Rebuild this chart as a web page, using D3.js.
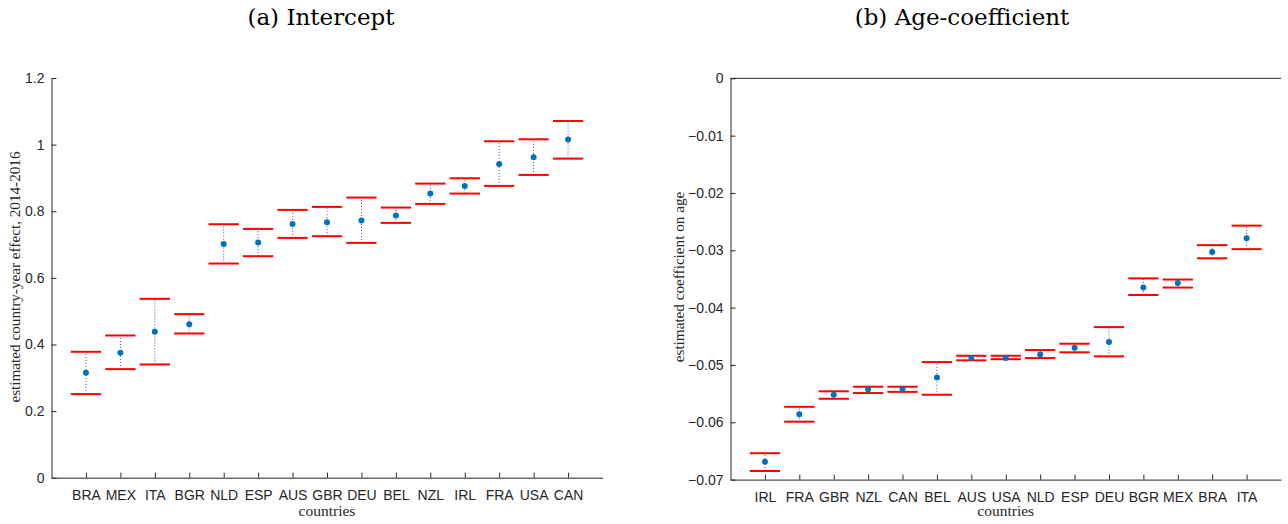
<!DOCTYPE html>
<html lang="en">
  <head>
    <meta charset="utf-8">
    <title>Country effects</title>
    <script src="https://d3js.org/d3.v7.min.js"></script>
    <style>
      body { margin: 0; background: #fff; }
      .tick text { font-family: "Liberation Sans", Arial, sans-serif; font-size: 14px; fill: #262626; }
      .domain, .tick line { stroke: #262626; }
    </style>
  </head>
  <body>
    <div id="chart"></div>
    <script type="text/javascript">
      // panel (a): intercept
      var countriesA = ["BRA","MEX","ITA","BGR","NLD","ESP","AUS","GBR","DEU","BEL","NZL","IRL","FRA","USA","CAN"];
      var estA  = [0.315, 0.375, 0.438, 0.461, 0.702, 0.706, 0.762, 0.767, 0.772, 0.787, 0.853, 0.876, 0.942, 0.962, 1.015];
      var lowA  = [0.251, 0.326, 0.340, 0.433, 0.643, 0.665, 0.720, 0.725, 0.705, 0.765, 0.822, 0.853, 0.876, 0.909, 0.958];
      var highA = [0.378, 0.427, 0.537, 0.491, 0.761, 0.747, 0.804, 0.813, 0.841, 0.811, 0.883, 0.899, 1.010, 1.016, 1.071];
      var ticksA = [0, 0.2, 0.4, 0.6, 0.8, 1, 1.2];

      // panel (b): age coefficient
      var countriesB = ["IRL","FRA","GBR","NZL","CAN","BEL","AUS","USA","NLD","ESP","DEU","BGR","MEX","BRA","ITA"];
      var estB  = [-0.0669, -0.0586, -0.0552, -0.0543, -0.0542, -0.0522, -0.0488, -0.0488, -0.0482, -0.0470, -0.0460, -0.0365, -0.0357, -0.0303, -0.0279];
      var lowB  = [-0.0685, -0.0599, -0.0559, -0.0549, -0.0547, -0.0552, -0.0492, -0.0490, -0.0488, -0.0478, -0.0485, -0.0378, -0.0365, -0.0314, -0.0298];
      var highB = [-0.0654, -0.0573, -0.0546, -0.0538, -0.0538, -0.0495, -0.0484, -0.0484, -0.0474, -0.0463, -0.0434, -0.0349, -0.0351, -0.0291, -0.0257];
      var ticksB = [-0.07, -0.06, -0.05, -0.04, -0.03, -0.02, -0.01, 0];

      var svg = d3.select('#chart')
        .append('svg')
        .attr('width', 1288)
        .attr('height', 524);

      var drawPanel = function(opt) {
        var x = d3.scaleLinear().domain([0, 16]).range([opt.left, opt.right]);
        var y = d3.scaleLinear().domain(opt.yDomain).range([opt.bottom, opt.top]);

        var rows = opt.countries.map(function(c, i) {
          return { name: c, i: i + 1, est: opt.est[i], lo: opt.low[i], hi: opt.high[i] };
        });

        // axes (ticks pointing inward, matlab style)
        svg.append('g')
          .attr('transform', 'translate(0,' + opt.bottom + ')')
          .call(d3.axisBottom(x)
            .tickValues(d3.range(1, 16))
            .tickFormat(function(d) { return opt.countries[d - 1]; })
            .tickSizeInner(-5).tickSizeOuter(0).tickPadding(12));

        svg.append('g')
          .attr('transform', 'translate(' + opt.left + ',0)')
          .call(d3.axisLeft(y)
            .tickValues(opt.ticks)
            .tickFormat(opt.fmt)
            .tickSizeInner(-5).tickSizeOuter(0).tickPadding(7));

        if (opt.topLine) {
          svg.append('line')
            .attr('x1', opt.left).attr('x2', opt.right)
            .attr('y1', opt.top).attr('y2', opt.top)
            .attr('stroke', '#262626');
        }

        // dotted connector between the bounds
        svg.append('g').selectAll('line')
          .data(rows).enter()
          .append('line')
            .attr('x1', function(d) { return x(d.i); })
            .attr('x2', function(d) { return x(d.i); })
            .attr('y1', function(d) { return y(d.lo); })
            .attr('y2', function(d) { return y(d.hi); })
            .attr('stroke', '#3a3aff')
            .attr('stroke-width', 1)
            .attr('stroke-dasharray', '1,2');

        // red caps
        ['lo', 'hi'].forEach(function(k) {
          svg.append('g').selectAll('line')
            .data(rows).enter()
            .append('line')
              .attr('x1', function(d) { return x(d.i - 0.44); })
              .attr('x2', function(d) { return x(d.i + 0.44); })
              .attr('y1', function(d) { return y(d[k]); })
              .attr('y2', function(d) { return y(d[k]); })
              .attr('stroke', '#ff0000')
              .attr('stroke-width', 2);
        });

        // estimate points
        svg.append('g').selectAll('circle')
          .data(rows).enter()
          .append('circle')
            .attr('cx', function(d) { return x(d.i); })
            .attr('cy', function(d) { return y(d.est); })
            .attr('r', 3)
            .attr('fill', '#0072bd');

        // labels
        svg.append('text')
          .attr('x', opt.titleX)
          .attr('y', 25)
          .attr('text-anchor', 'middle')
          .style('font-family', '"DejaVu Serif", serif')
          .style('font-size', '23px')
          .attr('fill', '#000')
          .text(opt.title);

        svg.append('text')
          .attr('x', (opt.left + opt.right) / 2)
          .attr('y', 516)
          .attr('text-anchor', 'middle')
          .style('font-family', '"Liberation Serif", serif')
          .style('font-size', '15.5px')
          .attr('fill', '#262626')
          .text('countries');

        svg.append('text')
          .attr('transform', 'translate(' + opt.yLabelX + ',' + opt.yLabelY + ')rotate(-90)')
          .attr('text-anchor', 'middle')
          .style('font-family', '"Liberation Serif", serif')
          .style('font-size', '15.2px')
          .attr('fill', '#262626')
          .text(opt.yLabel);
      }

      drawPanel({
        countries: countriesA, est: estA, low: lowA, high: highA,
        ticks: ticksA, fmt: function(d) { return d3.format('')(+d.toFixed(1)); },
        yDomain: [0, 1.2], left: 51.5, right: 602.5, top: 78, bottom: 477.7,
        title: '(a) Intercept', titleX: 321, yLabel: 'estimated country-year effect, 2014-2016',
        yLabelX: 20, yLabelY: 277, topLine: false
      });

      drawPanel({
        countries: countriesB, est: estB, low: lowB, high: highB,
        ticks: ticksB, fmt: function(d) { return d === 0 ? '0' : d3.format('.2f')(d); },
        yDomain: [-0.07, 0], left: 730.5, right: 1281, top: 78.3, bottom: 479.6,
        title: '(b) Age-coefficient', titleX: 962, yLabel: 'estimated coefficient on age',
        yLabelX: 684, yLabelY: 277, topLine: true
      });
    </script>
  </body>
</html>
